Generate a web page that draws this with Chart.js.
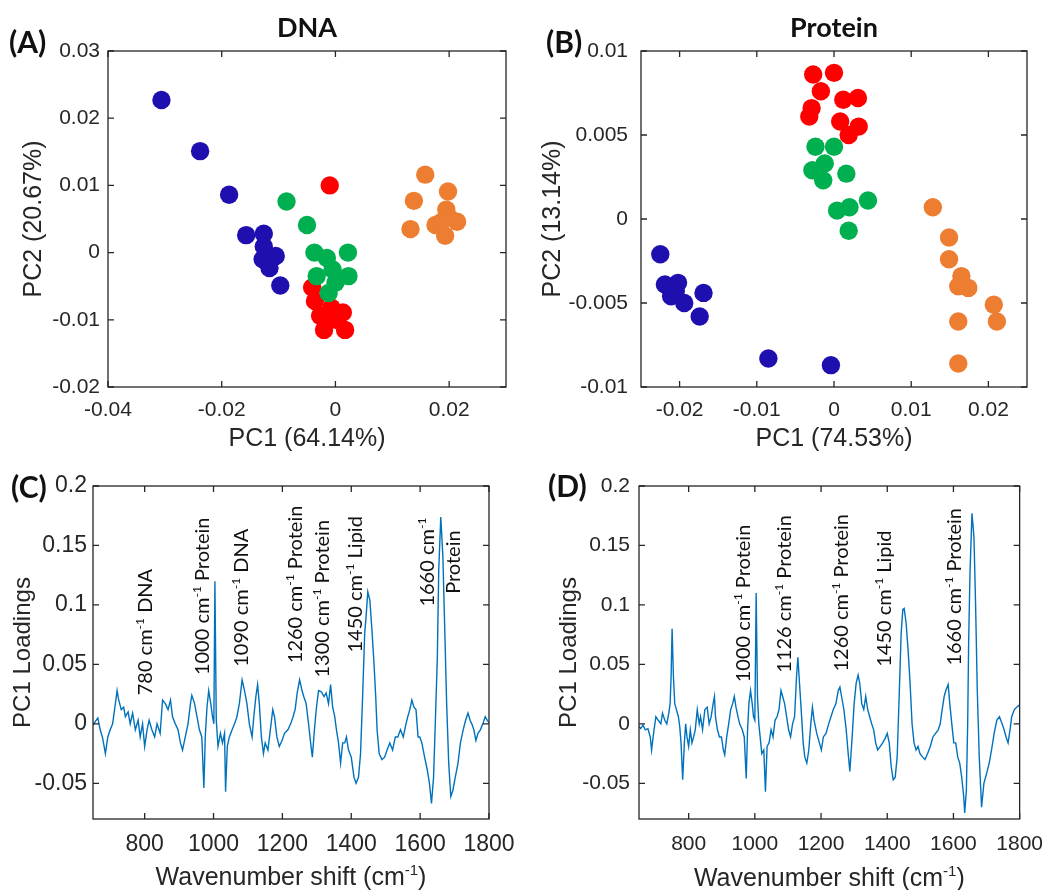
<!DOCTYPE html>
<html>
<head>
<meta charset="utf-8">
<script src="https://cdn.jsdelivr.net/npm/chart.js@4.4.1/dist/chart.umd.min.js"></script>
<style>
  body { margin: 0; background: #fff; width: 1056px; height: 890px; position: relative; overflow: hidden; }
  canvas { position: absolute; }
</style>
</head>
<body>
<canvas id="chartA" width="528" height="455" style="left:0;top:0"></canvas>
<canvas id="chartB" width="528" height="455" style="left:528px;top:0"></canvas>
<canvas id="chartC" width="528" height="435" style="left:0;top:455px"></canvas>
<canvas id="chartD" width="528" height="435" style="left:528px;top:455px"></canvas>
<script>
// ---- data: PCA scores [PC1, PC2] ----
const dnaBlue = [[-0.0306, 0.0227], [-0.0238, 0.0151], [-0.0187, 0.0086], [-0.0157, 0.0026], [-0.0126, 0.0028],
  [-0.0126, 0.0009], [-0.0105, -0.0005], [-0.0128, -0.0010], [-0.0116, -0.0023], [-0.0097, -0.0049]];
const dnaRed = [[-0.0010, 0.0100], [-0.0041, -0.0052], [-0.0036, -0.0072], [-0.0027, -0.0094], [0.0013, -0.0089],
  [-0.0020, -0.0115], [0.0017, -0.0115], [-0.0007, -0.0082], [0.0000, -0.0100], [-0.0015, -0.0098]];
const dnaGreen = [[-0.0086, 0.0076], [-0.0050, 0.0041], [-0.0037, 0.0000], [-0.0015, -0.0008], [0.0022, 0.0000],
  [-0.0033, -0.0035], [-0.0005, -0.0025], [0.0023, -0.0035], [-0.0012, -0.0060], [0.0000, -0.0045]];
const dnaOrange = [[0.0158, 0.0116], [0.0198, 0.0091], [0.0138, 0.0077], [0.0195, 0.0064], [0.0214, 0.0046],
  [0.0176, 0.0041], [0.0132, 0.0035], [0.0193, 0.0025], [0.0200, 0.0052], [0.0187, 0.0046]];

const protBlue = [[-0.0225, -0.0021], [-0.0219, -0.0039], [-0.0202, -0.0038], [-0.0211, -0.0046], [-0.0194, -0.0050],
  [-0.0169, -0.0044], [-0.0174, -0.0058], [-0.0205, -0.0043], [-0.0085, -0.0083], [-0.0004, -0.0087]];
const protRed = [[-0.0027, 0.0086], [0.0000, 0.0087], [-0.0017, 0.0076], [-0.0029, 0.0066], [-0.0032, 0.0061],
  [0.0012, 0.0071], [0.0031, 0.0072], [0.0008, 0.0058], [0.0032, 0.0055], [0.0019, 0.0050]];
const protGreen = [[-0.0024, 0.0043], [0.0000, 0.0043], [-0.0012, 0.0033], [-0.0028, 0.0029], [-0.0014, 0.0023],
  [0.0016, 0.0027], [0.0004, 0.0005], [0.0020, 0.0007], [0.0044, 0.0011], [0.0019, -0.0007]];
const protOrange = [[0.0128, 0.0007], [0.0149, -0.0011], [0.0149, -0.0024], [0.0165, -0.0034], [0.0161, -0.0040],
  [0.0174, -0.0041], [0.0207, -0.0051], [0.0211, -0.0061], [0.0161, -0.0061], [0.0161, -0.0086]];

// ---- data: PC1 loadings spectra ----
const dnaWn = [650, 657, 664, 671, 678, 686, 693, 700, 707, 715, 720, 724, 732, 739, 744, 752, 758, 765, 773, 781,
  787, 794, 800, 807, 813, 821, 829, 836, 845, 852, 860, 868, 875, 881, 889, 897, 904, 910, 918, 926,
  933, 937, 945, 952, 959, 966, 972, 976, 981, 986, 992, 997, 1001, 1004, 1008, 1013, 1020, 1026, 1032, 1035,
  1040, 1046, 1054, 1061, 1068, 1075, 1083, 1090, 1097, 1104, 1112, 1117, 1123, 1128, 1133, 1139, 1145, 1150, 1158, 1165,
  1172, 1177, 1184, 1191, 1199, 1206, 1216, 1224, 1231, 1237, 1243, 1250, 1257, 1262, 1269, 1276, 1282, 1287, 1293, 1299,
  1305, 1313, 1321, 1327, 1334, 1340, 1346, 1352, 1357, 1363, 1369, 1375, 1381, 1386, 1392, 1400, 1408, 1414, 1421, 1427,
  1433, 1439, 1443, 1448, 1454, 1460, 1466, 1471, 1475, 1481, 1489, 1497, 1504, 1512, 1520, 1528, 1535, 1543, 1551, 1559,
  1564, 1570, 1576, 1582, 1588, 1594, 1599, 1605, 1613, 1621, 1627, 1633, 1639, 1644, 1650, 1654, 1660, 1666, 1671, 1677,
  1683, 1689, 1695, 1702, 1710, 1717, 1725, 1732, 1739, 1745, 1750, 1756, 1762, 1768, 1775, 1782, 1789, 1795, 1800];
const dnaLoad = [-0.001, 0.002, 0.005, -0.005, -0.012, -0.025, -0.011, -0.005, 0.000, 0.017, 0.028, 0.021, 0.012, 0.014, 0.006, 0.010, 0.000, 0.009, -0.005, 0.003,
  -0.011, 0.000, -0.019, -0.005, 0.003, -0.005, -0.011, 0.000, -0.008, 0.020, 0.017, 0.012, 0.020, 0.006, 0.000, -0.005, -0.016, -0.022, -0.011, 0.000,
  0.017, 0.024, 0.017, 0.006, -0.005, -0.011, -0.054, -0.011, 0.014, 0.028, 0.017, 0.006, 0.000, 0.120, 0.003, -0.019, -0.008, -0.016, -0.008, -0.057,
  -0.019, -0.011, -0.005, 0.000, 0.006, 0.017, 0.037, 0.028, 0.017, 0.000, -0.011, 0.006, 0.023, 0.033, 0.017, -0.011, -0.025, -0.016, -0.022, -0.005,
  0.012, 0.006, -0.011, -0.019, -0.014, -0.008, -0.005, 0.000, 0.006, 0.012, 0.026, 0.037, 0.028, 0.023, 0.017, 0.000, -0.016, -0.028, -0.005, 0.014,
  0.028, 0.027, 0.023, 0.026, 0.017, 0.033, 0.014, 0.006, -0.005, -0.016, -0.033, -0.016, -0.016, -0.011, -0.022, -0.028, -0.045, -0.050, -0.045, -0.025,
  0.023, 0.076, 0.090, 0.111, 0.104, 0.079, 0.051, 0.023, -0.005, -0.025, -0.030, -0.028, -0.022, -0.016, -0.022, -0.011, -0.011, -0.005, -0.011, 0.000,
  0.006, 0.012, 0.020, 0.014, 0.012, -0.011, -0.011, -0.016, -0.028, -0.039, -0.050, -0.067, -0.045, 0.000, 0.056, 0.129, 0.174, 0.141, 0.085, 0.017,
  -0.033, -0.061, -0.056, -0.045, -0.033, -0.016, -0.005, 0.003, 0.009, 0.003, 0.000, -0.005, -0.014, -0.008, -0.005, 0.000, 0.006, 0.003, 0.001];

const protWn = [650, 655, 662, 669, 677, 684, 688, 694, 701, 708, 716, 721, 728, 734, 740, 744, 747, 750, 754, 758,
  763, 769, 773, 777, 782, 787, 791, 795, 800, 805, 810, 815, 820, 826, 832, 836, 842, 849, 856, 862,
  868, 874, 878, 881, 887, 893, 899, 905, 909, 915, 921, 927, 933, 938, 943, 949, 954, 962, 968, 974,
  978, 982, 987, 992, 996, 1000, 1004, 1008, 1012, 1016, 1021, 1027, 1032, 1037, 1043, 1049, 1055, 1061, 1067, 1073,
  1079, 1084, 1090, 1096, 1102, 1108, 1114, 1120, 1126, 1130, 1135, 1140, 1146, 1151, 1157, 1163, 1169, 1174, 1179, 1187,
  1195, 1201, 1207, 1215, 1223, 1230, 1237, 1245, 1252, 1257, 1262, 1269, 1276, 1282, 1287, 1294, 1300, 1306, 1312, 1317,
  1323, 1329, 1335, 1341, 1347, 1353, 1359, 1365, 1371, 1379, 1386, 1394, 1400, 1406, 1412, 1418, 1424, 1430, 1436, 1442,
  1447, 1451, 1457, 1463, 1469, 1475, 1481, 1487, 1493, 1499, 1507, 1514, 1522, 1530, 1538, 1546, 1554, 1560, 1566, 1572,
  1577, 1584, 1589, 1595, 1601, 1607, 1613, 1619, 1625, 1631, 1634, 1639, 1643, 1646, 1650, 1656, 1662, 1667, 1672, 1678,
  1685, 1692, 1700, 1708, 1715, 1723, 1731, 1739, 1747, 1753, 1759, 1765, 1771, 1776, 1784, 1791, 1800];
const protLoad = [-0.002, -0.004, -0.001, -0.005, -0.004, -0.011, -0.022, -0.008, 0.006, 0.003, 0.000, 0.009, 0.003, 0.000, 0.009, 0.017, 0.040, 0.080, 0.040, 0.017,
  0.012, 0.006, -0.002, -0.016, -0.047, -0.016, 0.000, -0.011, -0.019, -0.005, -0.016, -0.011, -0.005, 0.012, 0.000, 0.006, -0.005, 0.012, 0.014, 0.000,
  0.006, 0.017, 0.023, 0.006, -0.005, -0.011, -0.011, -0.022, -0.026, -0.011, 0.000, 0.012, 0.017, 0.023, 0.014, 0.006, 0.000, -0.005, -0.011, -0.046,
  -0.005, 0.017, 0.028, 0.017, 0.006, 0.003, 0.110, 0.023, 0.000, -0.011, -0.025, -0.022, -0.057, -0.019, -0.016, -0.005, -0.011, 0.003, 0.006, 0.012,
  0.028, 0.023, 0.017, 0.006, -0.005, -0.011, 0.000, 0.006, 0.040, 0.056, 0.034, 0.012, -0.016, -0.028, -0.033, -0.022, 0.000, 0.014, 0.003, -0.008,
  -0.016, -0.022, -0.011, -0.008, 0.000, 0.006, 0.012, 0.017, 0.028, 0.031, 0.023, 0.012, -0.005, -0.025, -0.040, -0.011, 0.017, 0.034, 0.041, 0.034,
  0.017, 0.012, 0.023, 0.012, 0.006, 0.000, -0.005, -0.016, -0.022, -0.019, -0.016, -0.012, -0.008, -0.016, -0.036, -0.047, -0.045, -0.028, 0.023, 0.076,
  0.096, 0.097, 0.085, 0.062, 0.034, 0.000, -0.016, -0.022, -0.019, -0.025, -0.028, -0.030, -0.025, -0.019, -0.011, -0.008, -0.005, 0.000, 0.012, 0.023,
  0.028, 0.033, 0.017, 0.000, -0.016, -0.016, -0.028, -0.033, -0.045, -0.061, -0.075, -0.056, 0.000, 0.070, 0.127, 0.177, 0.157, 0.099, 0.028, -0.028,
  -0.070, -0.050, -0.042, -0.033, -0.022, -0.008, 0.003, 0.006, 0.000, -0.005, -0.011, -0.016, -0.005, 0.006, 0.012, 0.014, 0.016];

// ---- tick labels ----
const dnaPc1Ticks = [-0.04, -0.02, 0, 0.02];
const dnaPc2Ticks = [-0.02, -0.01, 0, 0.01, 0.02, 0.03];
const protPc1Ticks = [-0.02, -0.01, 0, 0.01, 0.02];
const protPc2Ticks = [-0.01, -0.005, 0, 0.005, 0.01];
const wnTicks = [800, 1000, 1200, 1400, 1600, 1800];
const loadTicks = [-0.05, 0, 0.05, 0.1, 0.15, 0.2];

// ---- peak labels ----
const dnaNotes = ['780 cm^{-1} DNA', '1000 cm^{-1} Protein', '1090 cm^{-1} DNA', '1260 cm^{-1} Protein',
  '1300 cm^{-1} Protein', '1450 cm^{-1} Lipid', '1660 cm^{-1}', 'Protein'];
const protNotes = ['1000 cm^{-1} Protein', '1126 cm^{-1} Protein', '1260 cm^{-1} Protein', '1450 cm^{-1} Lipid', '1660 cm^{-1} Protein'];

const SANS = "'Liberation Sans', Arial, sans-serif";
const CAL = "Lato, 'Open Sans', sans-serif";
const INK = '#262626';
const BLUE = '#1E0FAE', RED = '#FF0000', GREEN = '#00B050', ORANGE = '#ED7D31', LINE = '#0072BD';

// text with ^{...} superscripts, optionally rotated to read bottom-to-top
function drawRich(ctx, text, x, y, o) {
  const parts = text.split(/(\^\{[^}]*\})/).filter(Boolean)
    .map(p => p.startsWith('^{') ? { t: p.slice(2, -1), sup: true } : { t: p, sup: false });
  const w = o.weight || 'normal';
  const big = `${w} ${o.size}px ${o.family}`;
  const small = `${w} ${Math.round(o.size * 0.6)}px ${o.family}`;
  const widths = parts.map(p => { ctx.font = p.sup ? small : big; return ctx.measureText(p.t).width; });
  const total = widths.reduce((s, v) => s + v, 0);
  ctx.save();
  ctx.translate(x, y);
  if (o.rotate) ctx.rotate(-Math.PI / 2);
  ctx.fillStyle = o.color || '#111';
  ctx.textAlign = 'left';
  ctx.textBaseline = 'alphabetic';
  let cx = o.align === 'center' ? -total / 2 : 0;
  const base = o.size * 0.36;
  parts.forEach((p, i) => {
    ctx.font = p.sup ? small : big;
    ctx.fillText(p.t, cx, base - (p.sup ? o.size * 0.4 : 0));
    cx += widths[i];
  });
  ctx.restore();
}

// MATLAB-like box with inward ticks, panel letter, title and peak labels
const panelPlugin = {
  id: 'panel',
  afterDraw(chart, args, opts) {
    const { ctx, chartArea: a, scales: { x, y } } = chart;
    ctx.save();
    ctx.strokeStyle = INK;
    ctx.lineWidth = 1.3;
    ctx.strokeRect(a.left, a.top, a.width, a.height);
    ctx.beginPath();
    x.ticks.forEach(t => {
      const p = x.getPixelForValue(t.value);
      ctx.moveTo(p, a.bottom); ctx.lineTo(p, a.bottom - 6);
      ctx.moveTo(p, a.top); ctx.lineTo(p, a.top + 6);
    });
    y.ticks.forEach(t => {
      const p = y.getPixelForValue(t.value);
      ctx.moveTo(a.left, p); ctx.lineTo(a.left + 6, p);
      ctx.moveTo(a.right, p); ctx.lineTo(a.right - 6, p);
    });
    ctx.stroke();
    ctx.restore();

    drawRich(ctx, opts.letter, opts.letterAt[0], opts.letterAt[1], { size: 30, family: CAL, weight: 'bold' });
    if (opts.title) {
      drawRich(ctx, opts.title, (a.left + a.right) / 2, opts.titleY, { size: 27, family: CAL, weight: 'bold', align: 'center' });
    }
    if (opts.xTitle) {
      drawRich(ctx, opts.xTitle, (a.left + a.right) / 2, opts.xTitleY, { size: 25, family: SANS, align: 'center', color: INK });
    }
    (opts.notes || []).forEach((txt, i) => {
      const at = opts.noteAt[i];
      drawRich(ctx, txt, x.getPixelForValue(at[0]), y.getPixelForValue(at[1]),
        { size: 20, family: CAL, rotate: true, align: at[2] || 'start' });
    });
  }
};

function axis(min, max, ticks, o) {
  return {
    type: 'linear', min, max,
    afterBuildTicks: s => { s.ticks = ticks.map(v => ({ value: v })); },
    afterFit: s => { if (s.isHorizontal()) s.height = o.fit; else s.width = o.fit; },
    grid: { display: false, drawTicks: false },
    border: { display: false },
    ticks: {
      font: { family: SANS, size: o.font }, color: INK, padding: o.pad,
      callback: v => String(parseFloat(Number(v).toFixed(4)))
    },
    title: o.title
      ? { display: true, text: o.title, color: INK, font: { family: SANS, size: o.titleSize }, padding: o.titlePad }
      : { display: false }
  };
}

function dots(pts, color) {
  return {
    data: pts.map(([x, y]) => ({ x, y })),
    backgroundColor: color, borderWidth: 0, pointRadius: 9.2, pointHoverRadius: 9.2
  };
}

function line(wn, vals) {
  return {
    data: wn.map((w, i) => ({ x: w, y: vals[i] })),
    borderColor: LINE, borderWidth: 1.4, pointRadius: 0, tension: 0, fill: false
  };
}

function base(padding, scales, panel) {
  return {
    responsive: false, maintainAspectRatio: false, animation: false, events: [],
    layout: { padding },
    scales,
    plugins: { legend: { display: false }, tooltip: { enabled: false }, panel }
  };
}

Chart.defaults.font.family = SANS;

new Chart(document.getElementById('chartA'), {
  type: 'scatter',
  data: { datasets: [dots(dnaBlue, BLUE), dots(dnaGreen, GREEN), dots(dnaRed, RED), dots(dnaOrange, ORANGE)] },
  options: base({ top: 51, right: 22, left: 0, bottom: 0 }, {
    x: axis(-0.04, 0.03, dnaPc1Ticks, { fit: 68, font: 21, pad: 11, title: 'PC1 (64.14%)', titleSize: 25, titlePad: { bottom: 1 } }),
    y: axis(-0.02, 0.03, dnaPc2Ticks, { fit: 108, font: 21, pad: 8, title: 'PC2 (20.67%)', titleSize: 25, titlePad: { top: 19 } })
  }, { letter: '(A)', letterAt: [9, 42], title: 'DNA', titleY: 27 }),
  plugins: [panelPlugin]
});

new Chart(document.getElementById('chartB'), {
  type: 'scatter',
  data: { datasets: [dots(protBlue, BLUE), dots(protRed, RED), dots(protGreen, GREEN), dots(protOrange, ORANGE)] },
  options: base({ top: 51, right: 29, left: 0, bottom: 0 }, {
    x: axis(-0.025, 0.025, protPc1Ticks, { fit: 68, font: 21, pad: 11, title: 'PC1 (74.53%)', titleSize: 25, titlePad: { bottom: 1 } }),
    y: axis(-0.01, 0.01, protPc2Ticks, { fit: 113, font: 21, pad: 13, title: 'PC2 (13.14%)', titleSize: 25, titlePad: { top: 10 } })
  }, { letter: '(B)', letterAt: [18, 42], title: 'Protein', titleY: 27 }),
  plugins: [panelPlugin]
});

new Chart(document.getElementById('chartC'), {
  type: 'line',
  data: { datasets: [line(dnaWn, dnaLoad)] },
  options: base({ top: 31, right: 39, left: 0, bottom: 0 }, {
    x: axis(650, 1800, wnTicks, { fit: 71, font: 23, pad: 12 }),
    y: axis(-0.08, 0.2, loadTicks, { fit: 93, font: 23, pad: 6, title: 'PC1 Loadings', titleSize: 24, titlePad: { top: 9 } })
  }, {
    letter: '(C)', letterAt: [11, 32], xTitle: 'Wavenumber shift (cm^{-1})', xTitleY: 421,
    notes: dnaNotes,
    noteAt: [[800, 0.024], [966, 0.041], [1080, 0.048], [1237, 0.051], [1315, 0.039], [1411, 0.060],
      [1620, 0.136, 'center'], [1695, 0.136, 'center']]
  }),
  plugins: [panelPlugin]
});

new Chart(document.getElementById('chartD'), {
  type: 'line',
  data: { datasets: [line(protWn, protLoad)] },
  options: base({ top: 31, right: 28, left: 0, bottom: 0 }, {
    x: axis(650, 1800, wnTicks, { fit: 71, font: 21, pad: 13 }),
    y: axis(-0.08, 0.2, loadTicks, { fit: 111, font: 21, pad: 9, title: 'PC1 Loadings', titleSize: 24, titlePad: { top: 27 } })
  }, {
    letter: '(D)', letterAt: [20, 31], xTitle: 'Wavenumber shift (cm^{-1})', xTitleY: 422,
    notes: protNotes,
    noteAt: [[963, 0.035], [1088, 0.043], [1259, 0.044], [1390, 0.048], [1600, 0.049]]
  }),
  plugins: [panelPlugin]
});
</script>
</body>
</html>
